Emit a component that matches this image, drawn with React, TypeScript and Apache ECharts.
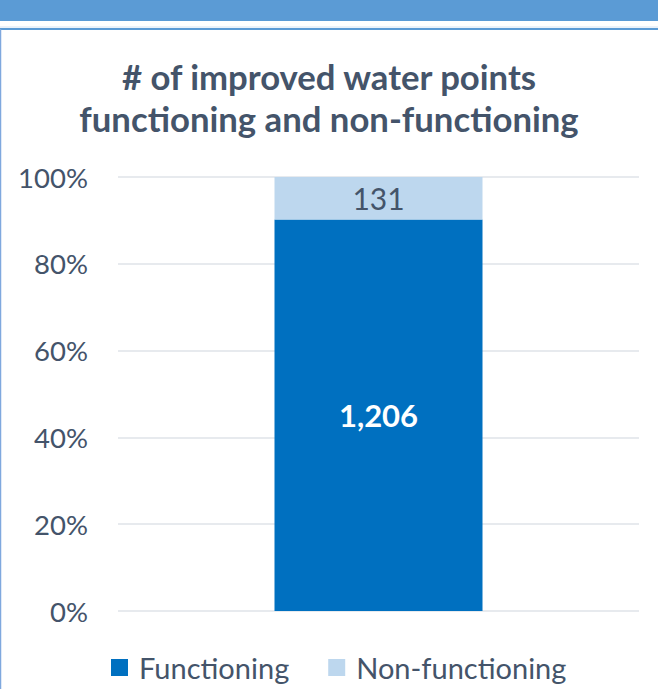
import React, { useEffect, useRef } from "react";
import * as echarts from "echarts";

const categories = ["Water points"];
const seriesNames = ["Functioning", "Non-functioning"];
const functioning = [1206];
const nonFunctioning = [131];
const yTicks = [0, 20, 40, 60, 80, 100];

const FONT = "Lato";
const TEXT = "#44546A";

export default function App() {
  const ref = useRef<HTMLDivElement>(null);
  useEffect(() => {
    const chart = echarts.init(ref.current!, null, { renderer: "svg" });
    const totals = functioning.map((v, i) => v + nonFunctioning[i]);
    const pct = (arr: number[]) => arr.map((v, i) => ({ value: (v / totals[i]) * 100, raw: v }));
    chart.setOption({
      animation: false,
      backgroundColor: "#ffffff",
      textStyle: { fontFamily: FONT },
      title: {
        text: "# of improved water points\nfunctioning and non-functioning",
        left: "center",
        top: 50,
        textStyle: { fontFamily: FONT, fontWeight: "bold", fontSize: 34.7, color: TEXT, lineHeight: 42 },
      },
      graphic: [
        { type: "rect", shape: { x: 0, y: 0, width: 658, height: 21 }, style: { fill: "#5B9BD5" } },
        { type: "line", shape: { x1: 0, y1: 27, x2: 658, y2: 27 }, style: { stroke: "#D6E4F3", lineWidth: 1 } },
        { type: "line", shape: { x1: 0, y1: 29, x2: 658, y2: 29 }, style: { stroke: "#5B9BD5", lineWidth: 2 } },
        { type: "line", shape: { x1: 0.5, y1: 29, x2: 0.5, y2: 689 }, style: { stroke: "#7FA8DE", lineWidth: 1.5 } },
      ],
      legend: {
        bottom: 2,
        left: 106,
        itemWidth: 17,
        itemHeight: 17,
        itemGap: 39,
        icon: "rect",
        textStyle: { fontFamily: FONT, fontSize: 29, color: TEXT, padding: [0, 0, 0, 6] },
        data: seriesNames,
      },
      grid: { left: 118, right: 19, top: 177, bottom: 78 },
      xAxis: {
        type: "category",
        data: categories,
        axisLine: { show: false },
        axisTick: { show: false },
        axisLabel: { show: false },
      },
      yAxis: {
        type: "value",
        min: yTicks[0],
        max: yTicks[yTicks.length - 1],
        interval: 20,
        axisLine: { show: false },
        axisTick: { show: false },
        axisLabel: { formatter: "{value}%", fontFamily: FONT, fontSize: 27.5, color: TEXT, margin: 30 },
        splitLine: { lineStyle: { color: "#DFE3E8", width: 1.5 } },
      },
      series: [
        {
          name: seriesNames[0],
          type: "bar",
          stack: "total",
          barWidth: 208,
          data: pct(functioning),
          itemStyle: { color: "#0070C0" },
          label: {
            show: true,
            position: "inside",
            formatter: (p: any) => p.data.raw.toLocaleString("en-US"),
            fontFamily: FONT,
            fontWeight: "bold",
            fontSize: 31,
            color: "#ffffff",
          },
        },
        {
          name: seriesNames[1],
          type: "bar",
          stack: "total",
          barWidth: 208,
          data: pct(nonFunctioning),
          itemStyle: { color: "#BDD7EE" },
          label: {
            show: true,
            position: "inside",
            formatter: (p: any) => p.data.raw.toLocaleString("en-US"),
            fontFamily: FONT,
            fontSize: 30,
            color: TEXT,
          },
        },
      ],
    });
    return () => chart.dispose();
  }, []);
  return <div ref={ref} style={{ position: "fixed", left: 0, top: 0, width: 658, height: 689 }} />;
}
